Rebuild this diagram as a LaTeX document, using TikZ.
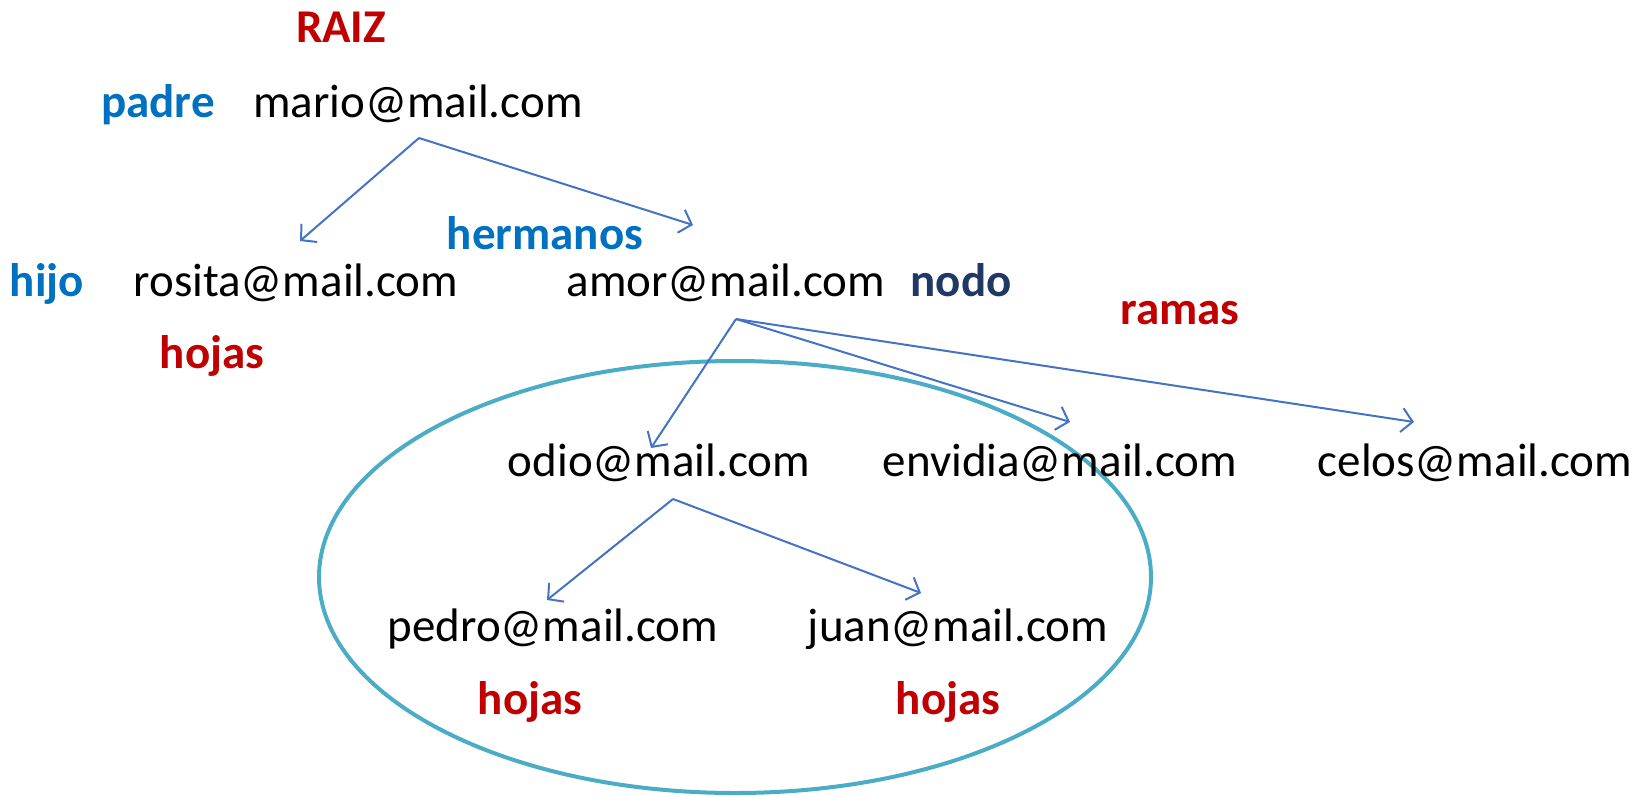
\documentclass[tikz,border=0pt]{standalone}
\usepackage{fontspec}
\setmainfont{Carlito}
\usetikzlibrary{arrows.meta}
\definecolor{cred}{HTML}{C00000}
\definecolor{cblue}{HTML}{0070C0}
\definecolor{cnavy}{HTML}{1F3864}
\definecolor{carrow}{HTML}{4472C4}
\definecolor{cteal}{HTML}{4BACC6}
\begin{document}
\begin{tikzpicture}[x=1pt,y=-1pt,
  every node/.style={inner sep=0pt,anchor=base,font=\fontsize{47}{56}\selectfont},
  mail/.style={text=black},
  redlab/.style={text=cred,font=\fontsize{47}{56}\selectfont\bfseries},
  bluelab/.style={text=cblue,font=\fontsize{47}{56}\selectfont\bfseries},
  navylab/.style={text=cnavy,font=\fontsize{47}{56}\selectfont\bfseries},
  link/.style={draw=carrow,line width=2pt,-{Straight Barb[length=11pt,width=24pt,line width=2pt]}},
  group/.style={draw=cteal,line width=4pt}]
\useasboundingbox (0,0) rectangle (1641,796);
% group ellipse
\draw[group] (735,577) ellipse [x radius=416, y radius=216];
% labels
\node[redlab] (raiz) at (341,42) {RAIZ};
\node[bluelab] (padre) at (158,117) {padre};
\node[bluelab] (hermanos) at (545,249) {hermanos};
\node[bluelab] (hijo) at (47,296) {hijo};
\node[navylab] (nodo) at (961,296) {nodo};
\node[redlab] (ramas) at (1180,324) {ramas};
\node[redlab] (hojas1) at (212,368) {hojas};
\node[redlab] (hojas2) at (530,714) {hojas};
\node[redlab] (hojas3) at (948,714) {hojas};
% mail nodes
\node[mail] (mario) at (418,117) {mario@mail.com};
\node[mail] (rosita) at (296,296) {rosita@mail.com};
\node[mail] (amor) at (726,296) {amor@mail.com};
\node[mail] (odio) at (659,476) {odio@mail.com};
\node[mail] (envidia) at (1060,476) {envidia@mail.com};
\node[mail] (celos) at (1475,476) {celos@mail.com};
\node[mail] (pedro) at (553,641) {pedro@mail.com};
\node[mail] (juan) at (958,641) {juan@mail.com};
% connector end points
\coordinate (mario-out) at (419,138);
\coordinate (rosita-in) at (300,241);
\coordinate (amor-in) at (693,225);
\coordinate (amor-out) at (736,319);
\coordinate (odio-in) at (651,448);
\coordinate (envidia-in) at (1070,422);
\coordinate (celos-in) at (1414,422);
\coordinate (odio-out) at (673,499);
\coordinate (pedro-in) at (547,600);
\coordinate (juan-in) at (921,593);
% connectors
\draw[link] (mario-out) -- (rosita-in);
\draw[link] (mario-out) -- (amor-in);
\draw[link] (amor-out) -- (odio-in);
\draw[link] (amor-out) -- (envidia-in);
\draw[link] (amor-out) -- (celos-in);
\draw[link] (odio-out) -- (pedro-in);
\draw[link] (odio-out) -- (juan-in);
\end{tikzpicture}
\end{document}
